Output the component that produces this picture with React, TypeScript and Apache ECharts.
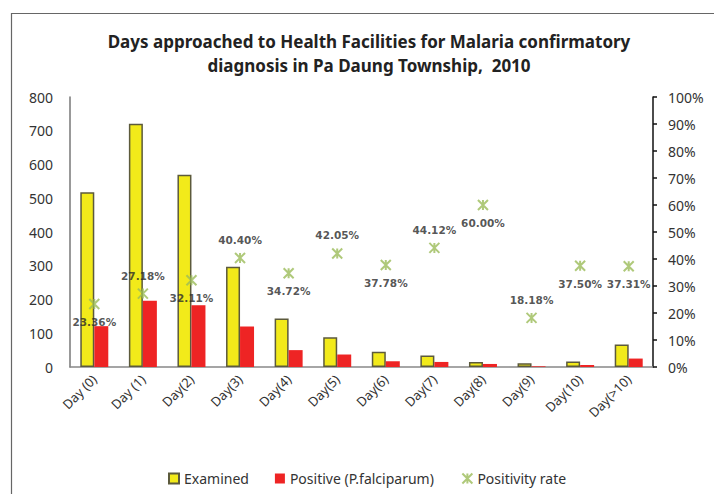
import React, { useEffect, useRef } from "react";
import * as echarts from "echarts";

const categories = ["Day (0)", "Day (1)", "Day(2)", "Day(3)", "Day(4)", "Day(5)", "Day(6)", "Day(7)", "Day(8)", "Day(9)", "Day(10)", "Day(>10)"];
const examined = [518, 721, 570, 297, 144, 88, 45, 34, 15, 11, 16, 67];
const positive = [121, 196, 183, 120, 50, 37, 17, 15, 9, 2, 6, 25];
const positivityRate = [23.36, 27.18, 32.11, 40.4, 34.72, 42.05, 37.78, 44.12, 60.0, 18.18, 37.5, 37.31];
const leftTicks = [0, 100, 200, 300, 400, 500, 600, 700, 800];
const labelPlacement = ["bottom", "top", "bottom", "top", "bottom", "top", "bottom", "top", "bottom", "top", "bottom", "bottom"];

const starPath = "path://M0,0L10,10M10,0L0,10M5,0L5,10";

export default function App() {
  const ref = useRef<HTMLDivElement>(null);
  useEffect(() => {
    if (!ref.current) return;
    const chart = echarts.init(ref.current, null, { renderer: "svg" });
    chart.setOption({
      animation: false,
      backgroundColor: "#ffffff",
      graphic: [
        { type: "line", shape: { x1: 11, y1: 13.5, x2: 714, y2: 13.5 }, style: { stroke: "#666", lineWidth: 1.2 } },
        { type: "line", shape: { x1: 11.5, y1: 13, x2: 11.5, y2: 494 }, style: { stroke: "#666", lineWidth: 1.2 } },
        {
          type: "text",
          x: 369,
          y: 29,
          style: {
            text: "Days approached to Health Facilities for Malaria confirmatory\ndiagnosis in Pa Daung Township,  2010",
            font: "bold 17px 'Noto Sans'",
            fill: "#222",
            textAlign: "center",
            lineHeight: 24,
          },
        },
      ],
      grid: { left: 70, right: 61, top: 97, bottom: 127 },
      legend: {
        left: 163,
        top: 466,
        itemWidth: 10,
        itemHeight: 10,
        itemGap: 26,
        textStyle: { fontFamily: "'Noto Sans'", fontSize: 14, color: "#333" },
        data: [
          { name: "Examined", icon: "rect" },
          { name: "Positive (P.falciparum)", icon: "rect" },
          { name: "Positivity rate" },
        ],
      },
      xAxis: {
        type: "category",
        data: categories,
        axisLine: { lineStyle: { color: "#888", width: 1.5 } },
        axisTick: { show: false },
        axisLabel: { rotate: 45, fontFamily: "'Noto Sans'", fontSize: 13, color: "#333", margin: 10, interval: 0 },
      },
      yAxis: [
        {
          type: "value",
          min: leftTicks[0],
          max: leftTicks[leftTicks.length - 1],
          interval: 100,
          splitLine: { show: false },
          axisLine: { show: true, lineStyle: { color: "#777", width: 1.5 } },
          axisTick: { show: false },
          axisLabel: { fontFamily: "'Noto Sans'", fontSize: 14, color: "#333", margin: 17 },
        },
        {
          type: "value",
          min: 0,
          max: 100,
          interval: 10,
          position: "right",
          splitLine: { show: false },
          axisLine: { show: true, lineStyle: { color: "#111", width: 1.5 } },
          axisTick: { show: true, length: 4, lineStyle: { color: "#111", width: 1.5 } },
          axisLabel: { fontFamily: "'Noto Sans'", fontSize: 14, color: "#333", margin: 15, formatter: "{value}%" },
        },
      ],
      series: [
        {
          name: "Examined",
          type: "bar",
          data: examined,
          barWidth: 14,
          barGap: "0%",
          itemStyle: { color: "#f2ea1a", borderColor: "#5c5a3c", borderWidth: 1.5 },
        },
        {
          name: "Positive (P.falciparum)",
          type: "bar",
          data: positive,
          barWidth: 14,
          itemStyle: { color: "#ee2424" },
        },
        {
          name: "Positivity rate",
          type: "scatter",
          yAxisIndex: 1,
          symbol: starPath,
          symbolSize: 10,
          itemStyle: { color: "none", borderColor: "#9bbb59", borderWidth: 2 },
          data: positivityRate.map((v, i) => ({
            value: v,
            label: { position: labelPlacement[i] },
          })),
          label: {
            show: true,
            distance: 5,
            formatter: (p: any) => p.value.toFixed(2) + "%",
            fontFamily: "'DejaVu Sans'",
            fontWeight: "bold",
            fontSize: 10.5,
            color: "#2a2a2a",
          },
        },
      ],
    });
    return () => chart.dispose();
  }, []);
  return <div ref={ref} style={{ position: "absolute", left: 0, top: 0, width: 714, height: 494 }} />;
}
